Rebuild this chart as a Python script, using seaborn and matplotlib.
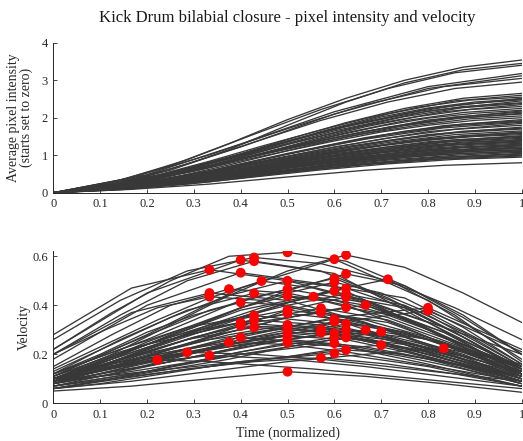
import numpy as np
import pandas as pd
import matplotlib
matplotlib.use("Agg")
import matplotlib.pyplot as plt
import seaborn as sns

# Velocity traces, one list per token (samples at equally spaced normalised time)
velocity = [
    [0.1, 0.15, 0.177, 0.17, 0.155, 0.14, 0.12, 0.1, 0.08, 0.06],
    [0.1, 0.17, 0.208, 0.2, 0.18, 0.15, 0.12, 0.09],
    [0.28, 0.47, 0.545, 0.5, 0.42, 0.31, 0.2],
    [0.2, 0.37, 0.45, 0.42, 0.33, 0.21, 0.1],
    [0.2, 0.3, 0.39, 0.435, 0.42, 0.37, 0.3, 0.22, 0.15, 0.09],
    [0.09, 0.16, 0.195, 0.18, 0.15, 0.11, 0.07],
    [0.15, 0.28, 0.4, 0.466, 0.45, 0.4, 0.31, 0.21, 0.12],
    [0.1, 0.16, 0.21, 0.249, 0.24, 0.21, 0.17, 0.13, 0.09],
    [0.22, 0.45, 0.585, 0.53, 0.33, 0.12],
    [0.18, 0.4, 0.533, 0.48, 0.3, 0.11],
    [0.12, 0.2, 0.29, 0.36, 0.412, 0.4, 0.36, 0.31, 0.24, 0.18, 0.12],
    [0.1, 0.24, 0.329, 0.3, 0.2, 0.09],
    [0.1, 0.15, 0.21, 0.27, 0.316, 0.31, 0.28, 0.24, 0.19, 0.14, 0.09],
    [0.08, 0.19, 0.269, 0.24, 0.16, 0.07],
    [0.26, 0.42, 0.54, 0.595, 0.57, 0.5, 0.39, 0.26],
    [0.2, 0.36, 0.5, 0.58, 0.54, 0.43, 0.29, 0.14],
    [0.12, 0.26, 0.38, 0.449, 0.42, 0.35, 0.25, 0.15],
    [0.12, 0.22, 0.31, 0.358, 0.33, 0.27, 0.19, 0.11],
    [0.11, 0.21, 0.29, 0.34, 0.32, 0.27, 0.2, 0.13],
    [0.09, 0.18, 0.26, 0.31, 0.29, 0.24, 0.17, 0.1],
    [0.14, 0.24, 0.34, 0.43, 0.499, 0.47, 0.41, 0.32, 0.23, 0.14],
    [0.22, 0.37, 0.5, 0.6, 0.616, 0.58, 0.48, 0.35, 0.2],
    [0.13, 0.24, 0.35, 0.44, 0.5, 0.47, 0.39, 0.27, 0.14],
    [0.11, 0.25, 0.38, 0.466, 0.41, 0.29, 0.15],
    [0.1, 0.17, 0.25, 0.32, 0.39, 0.438, 0.42, 0.37, 0.3, 0.22, 0.14],
    [0.11, 0.22, 0.32, 0.381, 0.34, 0.25, 0.14],
    [0.1, 0.18, 0.26, 0.32, 0.367, 0.34, 0.29, 0.22, 0.15],
    [0.09, 0.15, 0.22, 0.28, 0.32, 0.3, 0.25, 0.18, 0.11],
    [0.1, 0.19, 0.26, 0.306, 0.28, 0.2, 0.12],
    [0.08, 0.12, 0.17, 0.21, 0.26, 0.29, 0.28, 0.24, 0.19, 0.14, 0.09],
    [0.07, 0.12, 0.18, 0.24, 0.275, 0.26, 0.21, 0.15, 0.09],
    [0.1, 0.17, 0.22, 0.261, 0.23, 0.17, 0.11],
    [0.06, 0.1, 0.15, 0.2, 0.247, 0.23, 0.19, 0.14, 0.08],
    [0.05, 0.07, 0.1, 0.129, 0.11, 0.08, 0.045],
    [0.09, 0.16, 0.24, 0.32, 0.39, 0.435, 0.4, 0.32, 0.22, 0.13],
    [0.1, 0.17, 0.26, 0.34, 0.388, 0.34, 0.24, 0.14],
    [0.1, 0.18, 0.26, 0.33, 0.37, 0.33, 0.23, 0.12],
    [0.08, 0.14, 0.2, 0.26, 0.302, 0.27, 0.19, 0.1],
    [0.09, 0.15, 0.21, 0.26, 0.288, 0.26, 0.2, 0.13],
    [0.06, 0.1, 0.14, 0.17, 0.186, 0.16, 0.12, 0.07],
    [0.11, 0.28, 0.47, 0.588, 0.42, 0.18],
    [0.12, 0.26, 0.42, 0.51, 0.36, 0.15],
    [0.1, 0.17, 0.24, 0.31, 0.39, 0.45, 0.494, 0.45, 0.37, 0.27, 0.16],
    [0.1, 0.24, 0.38, 0.458, 0.33, 0.14],
    [0.09, 0.18, 0.28, 0.344, 0.26, 0.12],
    [0.09, 0.13, 0.17, 0.21, 0.26, 0.3, 0.333, 0.31, 0.26, 0.2, 0.13],
    [0.1, 0.17, 0.24, 0.286, 0.21, 0.1],
    [0.07, 0.1, 0.13, 0.17, 0.21, 0.24, 0.269, 0.25, 0.2, 0.15, 0.09],
    [0.07, 0.13, 0.2, 0.245, 0.18, 0.08],
    [0.09, 0.13, 0.17, 0.204, 0.15, 0.07],
    [0.1, 0.2, 0.32, 0.44, 0.54, 0.605, 0.555, 0.45, 0.33],
    [0.09, 0.18, 0.28, 0.37, 0.46, 0.528, 0.48, 0.36, 0.2],
    [0.1, 0.17, 0.25, 0.33, 0.41, 0.469, 0.43, 0.31, 0.16],
    [0.1, 0.18, 0.26, 0.34, 0.4, 0.446, 0.4, 0.29, 0.15],
    [0.08, 0.15, 0.22, 0.3, 0.38, 0.433, 0.39, 0.27, 0.13],
    [0.08, 0.15, 0.22, 0.29, 0.35, 0.392, 0.35, 0.24, 0.12],
    [0.08, 0.12, 0.17, 0.22, 0.28, 0.324, 0.29, 0.21, 0.12],
    [0.08, 0.13, 0.17, 0.22, 0.26, 0.299, 0.27, 0.2, 0.11],
    [0.06, 0.1, 0.14, 0.18, 0.23, 0.269, 0.24, 0.17, 0.09],
    [0.07, 0.1, 0.13, 0.16, 0.19, 0.218, 0.2, 0.15, 0.08],
    [0.1, 0.18, 0.27, 0.35, 0.401, 0.29, 0.12],
    [0.09, 0.14, 0.2, 0.26, 0.299, 0.22, 0.1],
    [0.09, 0.18, 0.28, 0.37, 0.45, 0.506, 0.36, 0.17],
    [0.08, 0.11, 0.14, 0.17, 0.2, 0.23, 0.26, 0.292, 0.26, 0.2, 0.12],
    [0.06, 0.08, 0.11, 0.14, 0.17, 0.19, 0.22, 0.238, 0.21, 0.16, 0.1],
    [0.09, 0.18, 0.27, 0.35, 0.39, 0.22],
    [0.1, 0.17, 0.25, 0.33, 0.378, 0.21],
    [0.06, 0.09, 0.13, 0.17, 0.2, 0.224, 0.16],
]

# Average pixel intensity for the same tokens (starts set to zero)
intensity = [
    [0, 0.1, 0.22, 0.36, 0.5, 0.63, 0.76, 0.87, 0.95, 1.0],
    [0, 0.12, 0.3, 0.5, 0.69, 0.87, 1.0, 1.08],
    [0, 0.40, 1.01, 1.71, 2.35, 2.83, 3.05],
    [0, 0.28, 0.70, 1.2, 1.64, 1.96, 2.12],
    [0, 0.18, 0.42, 0.72, 1.02, 1.31, 1.58, 1.8, 1.97, 2.05],
    [0, 0.13, 0.32, 0.55, 0.75, 0.9, 0.98],
    [0, 0.22, 0.54, 0.95, 1.38, 1.76, 2.08, 2.3, 2.4],
    [0, 0.11, 0.26, 0.46, 0.66, 0.83, 0.98, 1.1, 1.15],
    [0, 0.48, 1.30, 2.16, 2.83, 3.18],
    [0, 0.38, 1.03, 1.71, 2.24, 2.52],
    [0, 0.14, 0.33, 0.57, 0.85, 1.12, 1.38, 1.62, 1.8, 1.93, 2.0],
    [0, 0.24, 0.64, 1.04, 1.36, 1.52],
    [0, 0.09, 0.22, 0.39, 0.59, 0.78, 0.96, 1.12, 1.26, 1.35, 1.4],
    [0, 0.19, 0.52, 0.85, 1.11, 1.25],
    [0, 0.33, 0.88, 1.56, 2.22, 2.78, 3.2, 3.4],
    [0, 0.28, 0.76, 1.35, 1.93, 2.42, 2.78, 2.95],
    [0, 0.2, 0.55, 0.98, 1.39, 1.75, 2.02, 2.15],
    [0, 0.16, 0.43, 0.77, 1.09, 1.38, 1.6, 1.7],
    [0, 0.16, 0.42, 0.75, 1.06, 1.34, 1.55, 1.65],
    [0, 0.13, 0.37, 0.68, 0.96, 1.22, 1.41, 1.5],
    [0, 0.2, 0.47, 0.84, 1.24, 1.62, 1.98, 2.28, 2.47, 2.55],
    [0, 0.28, 0.72, 1.31, 1.95, 2.52, 3.0, 3.35, 3.54],
    [0, 0.2, 0.5, 0.92, 1.37, 1.77, 2.11, 2.36, 2.48],
    [0, 0.28, 0.73, 1.29, 1.79, 2.16, 2.35],
    [0, 0.14, 0.34, 0.6, 0.9, 1.21, 1.51, 1.78, 1.99, 2.12, 2.2],
    [0, 0.23, 0.58, 1.03, 1.43, 1.73, 1.88],
    [0, 0.15, 0.36, 0.65, 0.96, 1.23, 1.46, 1.64, 1.72],
    [0, 0.12, 0.31, 0.58, 0.88, 1.13, 1.35, 1.5, 1.58],
    [0, 0.18, 0.46, 0.81, 1.12, 1.36, 1.48],
    [0, 0.08, 0.2, 0.36, 0.54, 0.73, 0.9, 1.06, 1.18, 1.27, 1.32],
    [0, 0.09, 0.24, 0.46, 0.71, 0.92, 1.09, 1.22, 1.28],
    [0, 0.15, 0.38, 0.67, 0.93, 1.12, 1.22],
    [0, 0.08, 0.22, 0.42, 0.65, 0.84, 1.0, 1.12, 1.18],
    [0, 0.09, 0.23, 0.42, 0.6, 0.73, 0.8],
    [0, 0.15, 0.37, 0.68, 1.05, 1.42, 1.76, 2.03, 2.22, 2.3],
    [0, 0.16, 0.45, 0.84, 1.22, 1.55, 1.79, 1.9],
    [0, 0.17, 0.44, 0.8, 1.15, 1.46, 1.69, 1.8],
    [0, 0.12, 0.34, 0.64, 0.93, 1.18, 1.37, 1.45],
    [0, 0.13, 0.33, 0.6, 0.86, 1.1, 1.27, 1.35],
    [0, 0.08, 0.23, 0.42, 0.61, 0.77, 0.89, 0.95],
    [0, 0.44, 1.22, 2.10, 2.78, 3.12],
    [0, 0.35, 0.98, 1.65, 2.18, 2.45],
    [0, 0.15, 0.37, 0.66, 0.99, 1.35, 1.7, 2.02, 2.26, 2.42, 2.5],
    [0, 0.33, 0.88, 1.47, 1.94, 2.18],
    [0, 0.23, 0.65, 1.1, 1.44, 1.62],
    [0, 0.1, 0.23, 0.41, 0.63, 0.85, 1.06, 1.25, 1.4, 1.5, 1.55],
    [0, 0.2, 0.53, 0.88, 1.16, 1.3],
    [0, 0.07, 0.18, 0.32, 0.49, 0.66, 0.82, 0.96, 1.07, 1.15, 1.2],
    [0, 0.16, 0.45, 0.76, 1.0, 1.12],
    [0, 0.16, 0.43, 0.71, 0.93, 1.05],
    [0, 0.22, 0.6, 1.15, 1.8, 2.42, 2.93, 3.28, 3.45],
    [0, 0.19, 0.5, 0.94, 1.42, 1.87, 2.25, 2.52, 2.65],
    [0, 0.17, 0.45, 0.85, 1.29, 1.69, 2.03, 2.27, 2.38],
    [0, 0.19, 0.46, 0.83, 1.22, 1.6, 1.92, 2.14, 2.25],
    [0, 0.15, 0.39, 0.74, 1.12, 1.49, 1.79, 2.0, 2.1],
    [0, 0.15, 0.37, 0.68, 1.03, 1.36, 1.64, 1.83, 1.92],
    [0, 0.12, 0.3, 0.56, 0.86, 1.13, 1.36, 1.52, 1.6],
    [0, 0.12, 0.28, 0.51, 0.77, 1.0, 1.21, 1.35, 1.42],
    [0, 0.09, 0.23, 0.44, 0.68, 0.89, 1.07, 1.2, 1.26],
    [0, 0.08, 0.21, 0.39, 0.59, 0.78, 0.94, 1.05, 1.1],
    [0, 0.22, 0.58, 1.05, 1.47, 1.79, 1.95],
    [0, 0.16, 0.42, 0.75, 1.04, 1.27, 1.38],
    [0, 0.21, 0.6, 1.12, 1.63, 2.1, 2.45, 2.6],
    [0, 0.08, 0.19, 0.35, 0.53, 0.72, 0.91, 1.09, 1.23, 1.32, 1.36],
    [0, 0.07, 0.17, 0.3, 0.46, 0.62, 0.77, 0.91, 1.02, 1.1, 1.14],
    [0, 0.26, 0.72, 1.22, 1.63, 1.85],
    [0, 0.24, 0.68, 1.15, 1.55, 1.75],
    [0, 0.11, 0.29, 0.54, 0.77, 0.94, 1.03],
]

x_ticks = [0, 0.1, 0.2, 0.3, 0.4, 0.5, 0.6, 0.7, 0.8, 0.9, 1]
x_tick_labels = ["0", "0.1", "0.2", "0.3", "0.4", "0.5", "0.6", "0.7", "0.8", "0.9", "1"]
int_ticks = [0, 1, 2, 3, 4]
vel_ticks = [0, 0.2, 0.4, 0.6]
vel_tick_labels = ["0", "0.2", "0.4", "0.6"]

# long-form table, time normalised per token
rows = []
for token, (vel, inten) in enumerate(zip(velocity, intensity)):
    t = np.linspace(0, 1, len(vel))
    for i in range(len(vel)):
        rows.append({"token": token, "time": t[i], "velocity": vel[i], "intensity": inten[i]})
df = pd.DataFrame(rows)

sns.set_style("ticks")
plt.rcParams["font.family"] = ["Liberation Serif", "DejaVu Serif"]
plt.rcParams["axes.edgecolor"] = "#262626"

LINE = "#383838"
TXT = "#262626"

fig = plt.figure(figsize=(5.23, 4.41), dpi=100)
ax1 = fig.add_axes([0.102, 0.563, 0.8955, 0.34])
ax2 = fig.add_axes([0.102, 0.0855, 0.8955, 0.3445])

for token, sub in df.groupby("token"):
    sns.lineplot(data=sub, x="time", y="intensity", ax=ax1, color=LINE,
                 lw=0.95, estimator=None, legend=False)
    sns.lineplot(data=sub, x="time", y="velocity", ax=ax2, color=LINE,
                 lw=0.95, estimator=None, legend=False)
    # peak velocity of this token
    peak = sub.loc[[sub["velocity"].idxmax()]]
    sns.scatterplot(data=peak, x="time", y="velocity", ax=ax2, color="red",
                    s=50, edgecolor="none", legend=False, zorder=3)

for ax in (ax1, ax2):
    ax.set_xlim(0, 1)
    ax.set_xticks(x_ticks)
    ax.set_xticklabels(x_tick_labels)
    ax.tick_params(direction="in", length=3, width=0.6, labelsize=9, pad=4, colors=TXT)
    for side in ("top", "right"):
        ax.spines[side].set_visible(False)
    for side in ("left", "bottom"):
        ax.spines[side].set_linewidth(0.7)
    ax.set_xlabel("")
    ax.set_ylabel("")

ax1.set_ylim(0, 4)
ax1.set_yticks(int_ticks)
ax1.set_yticklabels([str(v) for v in int_ticks])
ax1.set_ylabel("Average pixel intensity\n(starts set to zero)", fontsize=10,
               color=TXT, linespacing=1.0, labelpad=6)
ax1.set_title("Kick Drum bilabial closure - pixel intensity and velocity",
              fontsize=12, color="#1a1a1a", pad=15)

ax2.set_ylim(0, 0.62)
ax2.set_yticks(vel_ticks)
ax2.set_yticklabels(vel_tick_labels)
ax2.set_ylabel("Velocity", fontsize=10, color=TXT, labelpad=1)
ax2.set_xlabel("Time (normalized)", fontsize=10, color=TXT, labelpad=4)

fig.savefig("out.png", dpi=100)
